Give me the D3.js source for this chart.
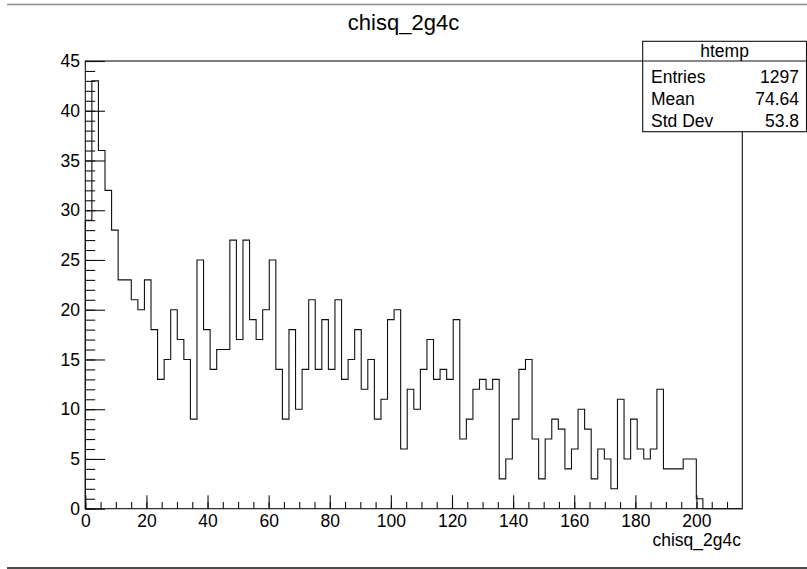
<!DOCTYPE html>
<html>
<head>
<meta charset="utf-8">
<script src="https://cdn.jsdelivr.net/npm/d3@7"></script>
<style>
  html, body { margin: 0; padding: 0; background: #fff; }
  svg { display: block; }
  text { font-family: "Liberation Sans", Arial, Helvetica, sans-serif; fill: #000; }
</style>
</head>
<body>
<svg id="chart" width="807" height="569"></svg>
<script>
// ---- data ----
const title = "chisq_2g4c";
const xTitle = "chisq_2g4c";
const binLow = 0;
const binHigh = 215;
const counts = [
  29, 43, 36, 32, 28, 23, 23, 21, 20, 23,
  18, 13, 15, 20, 17, 15, 9, 25, 18, 14,
  16, 16, 27, 17, 27, 19, 17, 20, 25, 14,
  9, 18, 10, 14, 21, 14, 19, 14, 21, 13,
  15, 18, 12, 15, 9, 11, 19, 20, 6, 12,
  10, 14, 17, 13, 14, 13, 19, 7, 9, 12,
  13, 12, 13, 3, 5, 9, 14, 15, 7, 3,
  7, 9, 8, 4, 6, 10, 8, 3, 6, 5,
  2, 11, 5, 9, 6, 5, 6, 12, 4, 4,
  4, 5, 5, 1, 0, 0, 0, 0, 0, 0
];
const xMajorTicks = [0, 20, 40, 60, 80, 100, 120, 140, 160, 180, 200];
const xMinorTicks = [0,5,10,15,20,25,30,35,40,45,50,55,60,65,70,75,80,85,90,95,100,105,110,115,120,125,130,135,140,145,150,155,160,165,170,175,180,185,190,195,200,205,210];
const yMajorTicks = [0, 5, 10, 15, 20, 25, 30, 35, 40, 45];
const yMinorTicks = [0,1,2,3,4,5,6,7,8,9,10,11,12,13,14,15,16,17,18,19,20,21,22,23,24,25,26,27,28,29,30,31,32,33,34,35,36,37,38,39,40,41,42,43,44,45];
const statsName = "htemp";
const statsLabels = ["Entries", "Mean", "Std Dev"];
const statsValues = ["1297", "74.64", "53.8"];

// ---- layout ----
const W = 807, H = 569;
const frame = { left: 85.3, right: 742.3, top: 61, bottom: 508.7 };
const svg = d3.select("#chart");

const x = d3.scaleLinear().domain([binLow, binHigh]).range([frame.left, frame.right]);
const y = d3.scaleLinear().domain([0, 45]).range([frame.bottom, frame.top]);

// canvas decorations (top/bottom edges)
svg.append("line").attr("x1", 7).attr("x2", W).attr("y1", 4.5).attr("y2", 4.5)
  .attr("stroke", "#8a8a8a").attr("stroke-width", 1.6);
svg.append("line").attr("x1", 7).attr("x2", W).attr("y1", 568).attr("y2", 568)
  .attr("stroke", "#111").attr("stroke-width", 1.6);

// histogram step outline
const nb = counts.length;
const bw = (binHigh - binLow) / nb;
const pts = [[binLow, 0]];
counts.forEach((c, i) => {
  pts.push([binLow + i * bw, c]);
  pts.push([binLow + (i + 1) * bw, c]);
});
pts.push([binHigh, 0]);
svg.append("path")
  .attr("d", d3.line().x(d => x(d[0])).y(d => y(d[1]))(pts))
  .attr("fill", "none").attr("stroke", "#111").attr("stroke-width", 1.1);

// frame
svg.append("rect")
  .attr("x", frame.left).attr("y", frame.top)
  .attr("width", frame.right - frame.left).attr("height", frame.bottom - frame.top)
  .attr("fill", "none").attr("stroke", "#111").attr("stroke-width", 1.1);

// x axis
const xMinor = svg.append("g").attr("transform", `translate(0,${frame.bottom})`)
  .call(d3.axisBottom(x).tickValues(xMinorTicks).tickSize(-6.8).tickFormat(""));
const xMajor = svg.append("g").attr("transform", `translate(0,${frame.bottom})`)
  .call(d3.axisBottom(x).tickValues(xMajorTicks).tickSize(-13.5).tickPadding(6.3).tickFormat(d3.format("d")));
// y axis
const yMinor = svg.append("g").attr("transform", `translate(${frame.left},0)`)
  .call(d3.axisLeft(y).tickValues(yMinorTicks).tickSize(-9.9).tickFormat(""));
const yMajor = svg.append("g").attr("transform", `translate(${frame.left},0)`)
  .call(d3.axisLeft(y).tickValues(yMajorTicks).tickSize(-19.7).tickPadding(5.3).tickFormat(d3.format("d")));

[xMinor, xMajor, yMinor, yMajor].forEach(g => {
  g.select(".domain").remove();
  g.selectAll(".tick line").attr("stroke", "#111").attr("stroke-width", 1.1);
  g.selectAll("text").attr("font-size", 17.5).attr("font-family", '"Liberation Sans", Arial, sans-serif').attr("fill", "#000");
});

// title
svg.append("text").attr("x", 403.5).attr("y", 29.5).attr("text-anchor", "middle")
  .attr("font-size", 22).text(title);

// x axis title
svg.append("text").attr("x", 741).attr("y", 546).attr("text-anchor", "end")
  .attr("font-size", 17.5).text(xTitle);

// stats box
const sb = { left: 642.7, right: 806.5, top: 41.3, bottom: 131.7, div: 61 };
svg.append("rect").attr("x", sb.left).attr("y", sb.top)
  .attr("width", sb.right - sb.left).attr("height", sb.bottom - sb.top)
  .attr("fill", "#fff").attr("stroke", "#111").attr("stroke-width", 1.1);
svg.append("line").attr("x1", sb.left).attr("x2", sb.right).attr("y1", sb.div).attr("y2", sb.div)
  .attr("stroke", "#111").attr("stroke-width", 1.1);
svg.append("text").attr("x", (sb.left + sb.right) / 2).attr("y", 57.3).attr("text-anchor", "middle")
  .attr("font-size", 17.5).text(statsName);
const rowY = [82.5, 104.5, 126.5];
statsLabels.forEach((lab, i) => {
  svg.append("text").attr("x", 651).attr("y", rowY[i]).attr("font-size", 17.5).text(lab);
  svg.append("text").attr("x", 799).attr("y", rowY[i]).attr("text-anchor", "end").attr("font-size", 17.5).text(statsValues[i]);
});
</script>
</body>
</html>
